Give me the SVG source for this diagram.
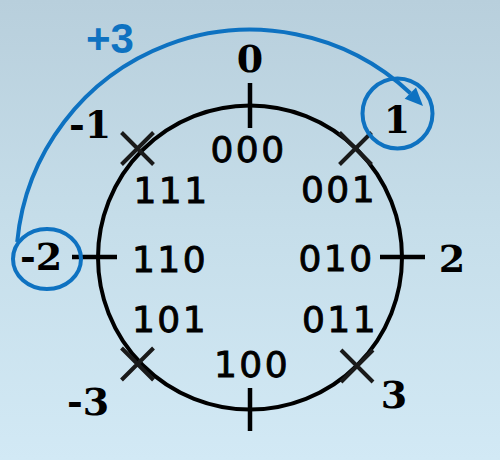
<svg xmlns="http://www.w3.org/2000/svg" width="500" height="460" viewBox="0 0 500 460">
<defs>
<linearGradient id="bg" x1="0" y1="0" x2="0" y2="1">
<stop offset="0" stop-color="#b8cfdc"/>
<stop offset="0.5" stop-color="#c6deea"/>
<stop offset="1" stop-color="#d2e9f5"/>
</linearGradient>
<style>
.ring{fill:none;stroke:#000;stroke-width:4}
.tick{stroke:#000;stroke-width:4.5}
.x{stroke:#1a1a1a;stroke-width:4;stroke-linecap:butt}
.bin{font-family:"DejaVu Sans",sans-serif;font-size:36px;letter-spacing:2.5px;fill:#000;stroke:#000;stroke-width:0.9;text-anchor:middle}
.num{font-family:"DejaVu Serif","Liberation Serif",serif;font-weight:bold;font-size:38px;fill:#000;text-anchor:middle}
.blue{fill:none;stroke:#0e72c1;stroke-width:4}
.plus{font-family:"Liberation Sans",Arial,sans-serif;font-weight:bold;font-size:42px;fill:#0e72c1;text-anchor:middle}
</style>
</defs>
<rect width="500" height="460" fill="url(#bg)"/>
<g id="wheel">
<circle class="ring" cx="250" cy="257.5" r="152"/>
<line class="tick" x1="250" y1="83" x2="250" y2="128"/>
<line class="tick" x1="250" y1="388" x2="250" y2="431"/>
<line class="tick" x1="72" y1="257" x2="117" y2="257"/>
<line class="tick" x1="380" y1="257" x2="425" y2="257"/>
<path class="x" d="M121.5 132.5L153.5 164.5M121.5 164.5L153.5 132.5"/>
<path class="x" d="M339.5 132.5L371.5 164.5M339.5 164.5L371.5 132.5"/>
<path class="x" d="M121.5 348L153.5 380M121.5 380L153.5 348"/>
<path class="x" d="M341 350L373 382M341 382L373 350"/>
</g>
<g id="bits">
<text class="bin" x="248.5" y="162">000</text>
<text class="bin" x="171.5" y="203">111</text>
<text class="bin" x="339" y="202">001</text>
<text class="bin" x="170" y="272">110</text>
<text class="bin" x="336.5" y="271">010</text>
<text class="bin" x="170" y="332">101</text>
<text class="bin" x="340" y="332">011</text>
<text class="bin" x="252" y="377">100</text>
</g>
<g id="values">
<text class="num" x="250" y="72">0</text>
<text class="num" x="90" y="138">-1</text>
<text class="num" x="41" y="270">-2</text>
<text class="num" x="88" y="415">-3</text>
<text class="num" x="397" y="133">1</text>
<text class="num" x="452" y="272">2</text>
<text class="num" x="394" y="408">3</text>
</g>
<g id="node-minus2">
<ellipse class="blue" cx="47" cy="259" rx="34" ry="30"/>
</g>
<g id="node-1">
<circle class="blue" cx="397.5" cy="113.5" r="35"/>
</g>
<g id="connectors">
<path class="blue" d="M17.2 242A234 234 0 0 1 410.4 93.2"/>
<polygon points="423,106 416,87.6 404.7,98.8" fill="#0e72c1"/>
<text class="plus" x="110" y="53">+3</text>
</g>
</svg>
